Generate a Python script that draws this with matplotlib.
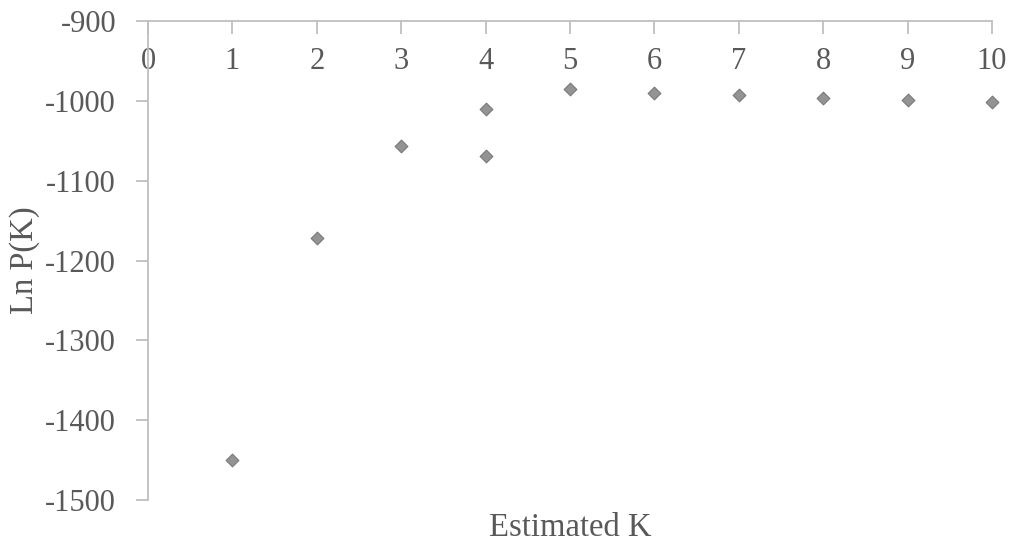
import matplotlib
matplotlib.use("Agg")
import matplotlib.pyplot as plt

k_values = [1, 2, 3, 4, 4, 5, 6, 7, 8, 9, 10]
ln_pk = [-1450, -1172, -1057, -1010, -1069, -985, -990, -993, -996, -999, -1001]
x_ticks = list(range(0, 11))
y_ticks = [-900, -1000, -1100, -1200, -1300, -1400, -1500]

plt.rcParams['font.family'] = ['Liberation Serif', 'DejaVu Serif']
plt.rcParams['axes.unicode_minus'] = False
text_color = '#595959'
spine_color = '#bfbfbf'

fig = plt.figure(figsize=(10.16, 5.41), dpi=100)
ax = fig.add_axes([148/1016, 1-500/541, (992-148)/1016, (500-21)/541])

ax.scatter(k_values, ln_pk, marker='D', s=42, facecolor='#939393',
           edgecolor='#7a7a7a', linewidth=0.8, zorder=3, clip_on=False)

ax.set_xlim(0, 10)
ax.set_ylim(-1500, -900)
ax.set_xticks(x_ticks)
ax.set_yticks(y_ticks)

for s in ['right', 'top']:
    ax.spines[s].set_visible(False)
ax.spines['bottom'].set_position(('data', -900))
for s in ['left', 'bottom']:
    ax.spines[s].set_color(spine_color)
    ax.spines[s].set_linewidth(1.3)

ax.tick_params(axis='x', direction='out', length=9, width=1.3, color=spine_color,
               labelsize=22, labelcolor=text_color, pad=10)
ax.tick_params(axis='y', direction='out', length=9, width=1.3, color=spine_color,
               labelsize=22, labelcolor=text_color, pad=14)

ax.set_xlabel('Estimated K', fontsize=23.5, color=text_color)
ax.xaxis.set_label_coords(0.5, -0.026)
ax.set_ylabel('Ln P(K)', fontsize=23.5, color=text_color)
ax.yaxis.set_label_coords(-0.128, 0.5)

fig.savefig('out.png', dpi=100)
